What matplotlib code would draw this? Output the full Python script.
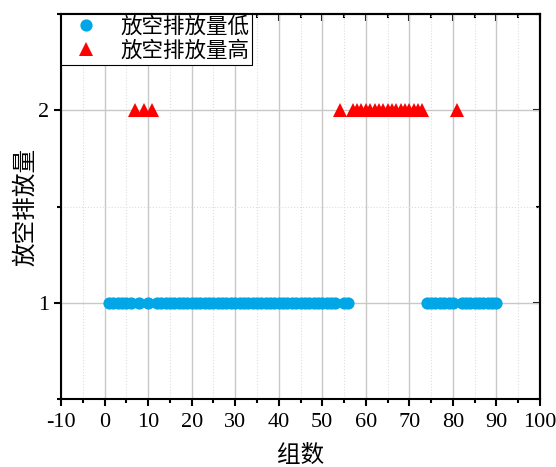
import matplotlib
matplotlib.use('Agg')
import matplotlib.pyplot as plt
from matplotlib.ticker import MultipleLocator
import numpy as np

plt.rcParams['font.family'] = ['Liberation Serif', 'Noto Sans CJK SC', 'DejaVu Sans']
plt.rcParams['axes.unicode_minus'] = False

# group number 1..90, emission level (1 = low, 2 = high)
groups = list(range(1, 91))
levels = [1, 1, 1, 1, 1, 1, 2, 1, 2, 1,
          2, 1, 1, 1, 1, 1, 1, 1, 1, 1,
          1, 1, 1, 1, 1, 1, 1, 1, 1, 1,
          1, 1, 1, 1, 1, 1, 1, 1, 1, 1,
          1, 1, 1, 1, 1, 1, 1, 1, 1, 1,
          1, 1, 1, 2, 1, 1, 2, 2, 2, 2,
          2, 2, 2, 2, 2, 2, 2, 2, 2, 2,
          2, 2, 2, 1, 1, 1, 1, 1, 1, 1,
          2, 1, 1, 1, 1, 1, 1, 1, 1, 1]
label_low = '放空排放量低'
label_high = '放空排放量高'

groups = np.array(groups)
levels = np.array(levels)
low = levels == 1
high = levels == 2

fig = plt.figure(figsize=(5.56, 4.67), dpi=100)
ax = fig.add_axes([61/556, 1 - 399/467, 479/556, 385/467])

ax.plot(groups[low], levels[low], 'o', color='#00A6E6', markersize=8.8,
        markeredgewidth=0, label=label_low, zorder=3)
ax.plot(groups[high], levels[high], '^', color='#FF0000', markersize=9.5,
        markeredgewidth=0, label=label_high, zorder=3)

ax.set_xlim(-10, 100)
ax.set_ylim(0.5, 2.5)
ax.xaxis.set_major_locator(MultipleLocator(10))
ax.xaxis.set_minor_locator(MultipleLocator(5))
ax.yaxis.set_major_locator(MultipleLocator(1))
ax.yaxis.set_minor_locator(MultipleLocator(0.5))

ax.grid(which='major', color='#c8c8c8', linewidth=1.0, linestyle='-')
ax.grid(which='minor', color='#dddddd', linewidth=0.8, linestyle=':')
ax.set_axisbelow(True)

for s in ax.spines.values():
    s.set_linewidth(1.5)
ax.tick_params(which='both', direction='out', width=1.5, labelsize=16, top=False, right=False)
ax.tick_params(which='major', length=5)
ax.tick_params(which='minor', length=3)
ax.tick_params(axis='x', pad=5)

# inward ticks on the top and right edges
top = ax.secondary_xaxis('top')
top.xaxis.set_major_locator(MultipleLocator(10))
top.xaxis.set_minor_locator(MultipleLocator(5))
top.tick_params(which='both', direction='in', width=1.5, labeltop=False)
top.tick_params(which='major', length=5)
top.tick_params(which='minor', length=3)
top.spines['top'].set_linewidth(1.5)
right = ax.secondary_yaxis('right')
right.yaxis.set_major_locator(MultipleLocator(1))
right.yaxis.set_minor_locator(MultipleLocator(0.5))
right.tick_params(which='both', direction='in', width=1.5, labelright=False)
right.tick_params(which='major', length=5)
right.tick_params(which='minor', length=3)
right.spines['right'].set_linewidth(1.5)

ax.set_xlabel('组数', fontsize=17, labelpad=9)
ax.set_ylabel('放空排放量', fontsize=17, labelpad=1)

leg = ax.legend(loc='upper left', fontsize=15.5, frameon=True, fancybox=False,
                framealpha=1, edgecolor='black', borderaxespad=0,
                handletextpad=0.6, borderpad=0.15, labelspacing=0.15,
                handlelength=2.0)
leg.get_frame().set_linewidth(0.8)

fig.savefig('out.png', dpi=100)
